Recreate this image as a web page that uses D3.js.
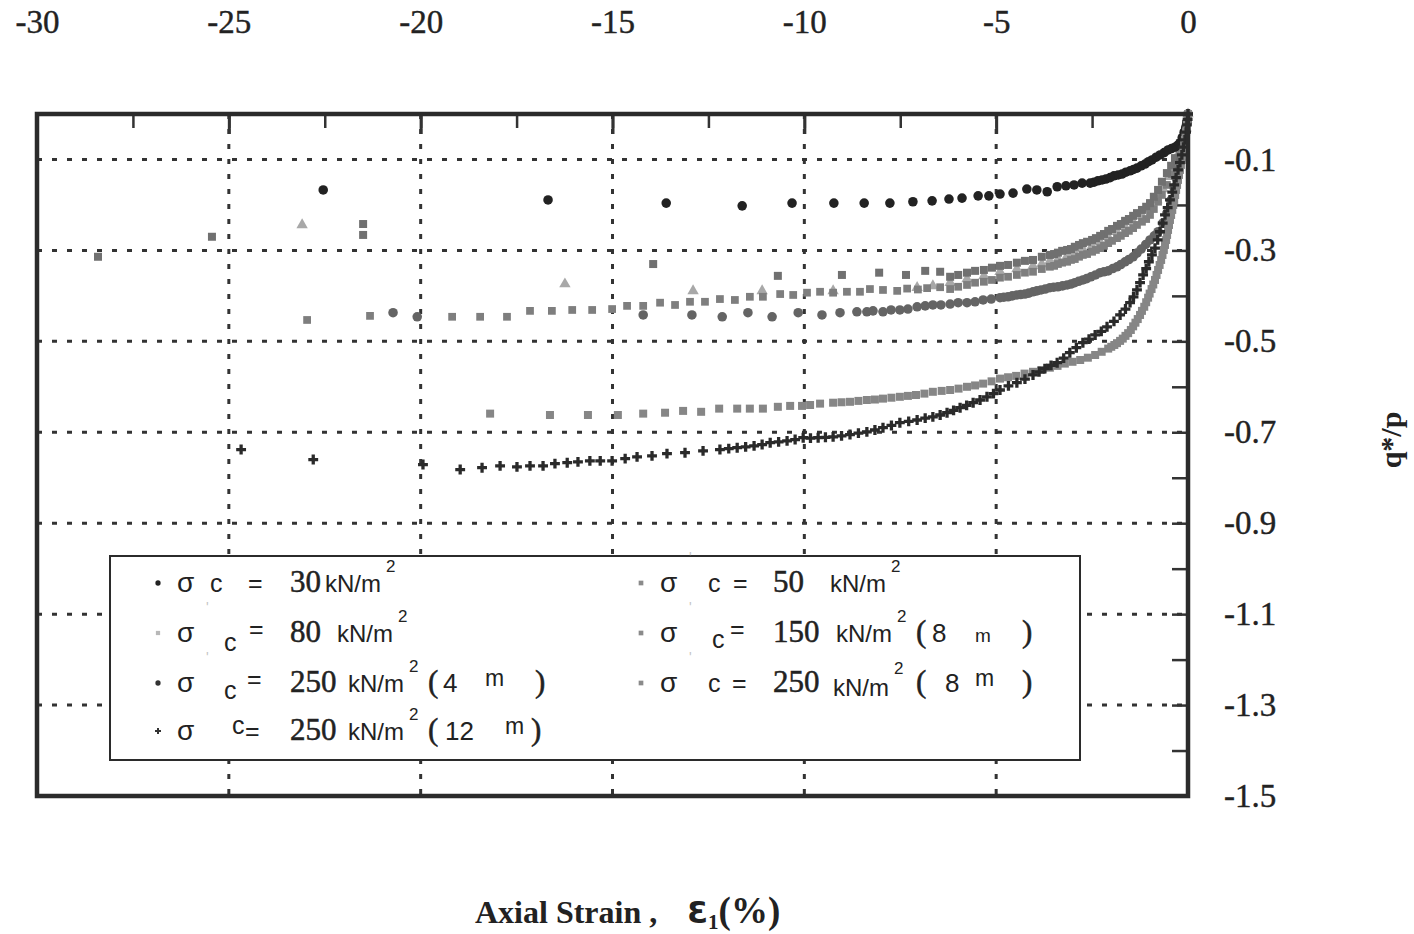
<!DOCTYPE html>
<html>
<head>
<meta charset="utf-8">
<script src="https://cdn.jsdelivr.net/npm/d3@7"></script>
<style>
  body { margin: 0; background: #fff; }
  svg { display: block; }
</style>
</head>
<body>
<svg id="chart" width="1414" height="934"></svg>
<script>
// tick values
const xTicks = [-30, -25, -20, -15, -10, -5, 0]
const xMinor = [-27.5, -25, -22.5, -20, -17.5, -15, -12.5, -10, -7.5, -5, -2.5]
const yLabels = [-0.1, -0.3, -0.5, -0.7, -0.9, -1.1, -1.3, -1.5]
const yMinor = [-0.1, -0.2, -0.3, -0.4, -0.5, -0.6, -0.7, -0.8, -0.9, -1.0, -1.1, -1.2, -1.3, -1.4]
const yGrid = [-0.1, -0.3, -0.5, -0.7, -0.9, -1.1, -1.3]
const xGrid = [-25, -20, -15, -10, -5]

// sigma'c = 30 kN/m2
const s30 = [[0,0],[-0.03,-0.018],[-0.06,-0.030],[-0.10,-0.040],[-0.15,-0.052],[-0.21,-0.064],[-0.27,-0.069],
  [-0.34,-0.073],[-0.43,-0.076],[-0.52,-0.079],[-0.62,-0.085],[-0.73,-0.090],[-0.83,-0.095],[-0.94,-0.101],
  [-1.03,-0.105],[-1.12,-0.110],[-1.22,-0.114],[-1.33,-0.119],[-1.42,-0.122],[-1.51,-0.125],[-1.62,-0.128],
  [-1.72,-0.132],[-1.82,-0.134],[-1.93,-0.136],[-2.03,-0.140],[-2.14,-0.143],[-2.24,-0.145],[-2.35,-0.147],
  [-2.45,-0.150],[-2.55,-0.152],[-2.76,-0.152],[-2.97,-0.156],[-3.18,-0.158],[-3.41,-0.160],[-3.67,-0.171],
  [-3.94,-0.167],[-4.20,-0.165],[-4.56,-0.174],[-4.90,-0.176],[-5.19,-0.180],[-5.47,-0.180],[-5.89,-0.185],
  [-6.23,-0.187],[-6.67,-0.191],[-7.17,-0.193],[-7.77,-0.196],[-8.44,-0.196],[-9.23,-0.196],[-10.32,-0.196],
  [-11.62,-0.202],[-13.60,-0.196],[-16.68,-0.189],[-22.54,-0.167]]

// sigma'c = 50 kN/m2
const s50 = [[0,0],[-0.03,-0.020],[-0.10,-0.042],[-0.21,-0.064],[-0.34,-0.097],[-0.44,-0.114],[-0.55,-0.130],
  [-0.68,-0.149],[-0.78,-0.167],[-0.89,-0.182],[-0.99,-0.196],[-1.09,-0.204],[-1.20,-0.211],[-1.33,-0.218],
  [-1.43,-0.224],[-1.54,-0.231],[-1.64,-0.235],[-1.75,-0.242],[-1.85,-0.246],[-1.98,-0.253],[-2.08,-0.257],
  [-2.19,-0.264],[-2.29,-0.268],[-2.40,-0.273],[-2.50,-0.277],[-2.63,-0.281],[-2.74,-0.284],[-2.84,-0.288],
  [-2.95,-0.292],[-3.05,-0.297],[-3.15,-0.299],[-3.28,-0.301],[-3.39,-0.305],[-3.49,-0.308],[-3.60,-0.310],
  [-3.81,-0.314],[-4.04,-0.321],[-4.25,-0.323],[-4.46,-0.327],[-4.69,-0.332],[-4.90,-0.334],[-5.11,-0.338],
  [-5.32,-0.343],[-5.55,-0.345],[-5.76,-0.349],[-5.99,-0.354],[-6.20,-0.358],[-6.46,-0.347],[-6.85,-0.345],
  [-7.35,-0.354],[-8.05,-0.349],[-9.02,-0.354],[-10.69,-0.356],[-13.94,-0.330],[-21.50,-0.266],[-21.50,-0.242],
  [-25.44,-0.270],[-28.41,-0.314]]

// sigma'c = 80 kN/m2
const s80 = [[0,0],[-0.05,-0.031],[-0.13,-0.057],[-0.23,-0.084],[-0.36,-0.114],[-0.50,-0.138],[-0.65,-0.165],
  [-0.81,-0.189],[-0.99,-0.209],[-1.20,-0.224],[-1.43,-0.237],[-1.64,-0.248],[-1.85,-0.259],[-2.08,-0.270],
  [-2.29,-0.281],[-2.50,-0.290],[-2.74,-0.297],[-2.95,-0.305],[-3.15,-0.312],[-3.39,-0.319],[-3.60,-0.323],
  [-3.81,-0.330],[-4.04,-0.334],[-4.46,-0.341],[-4.90,-0.347],[-5.32,-0.356],[-5.76,-0.363],[-6.20,-0.371],
  [-6.65,-0.378],[-7.06,-0.382],[-9.25,-0.389],[-11.10,-0.389],[-12.90,-0.389],[-16.24,-0.374],[-23.09,-0.244]]

// sigma'c = 150 kN/m2 (8 m)
const s150 = [[0,0],[-0.05,-0.040],[-0.13,-0.070],[-0.21,-0.090],[-0.31,-0.112],[-0.42,-0.132],[-0.55,-0.156],
  [-0.68,-0.178],[-0.78,-0.193],[-0.89,-0.209],[-0.99,-0.222],[-1.09,-0.231],[-1.20,-0.237],[-1.33,-0.244],
  [-1.43,-0.251],[-1.54,-0.257],[-1.64,-0.262],[-1.75,-0.268],[-1.85,-0.273],[-1.98,-0.279],[-2.08,-0.284],
  [-2.19,-0.290],[-2.29,-0.295],[-2.40,-0.299],[-2.50,-0.303],[-2.63,-0.308],[-2.74,-0.310],[-2.84,-0.314],
  [-2.95,-0.319],[-3.05,-0.321],[-3.15,-0.325],[-3.28,-0.327],[-3.39,-0.330],[-3.49,-0.334],[-3.60,-0.336],
  [-3.81,-0.341],[-4.04,-0.347],[-4.25,-0.349],[-4.46,-0.354],[-4.69,-0.358],[-4.90,-0.360],[-5.11,-0.365],
  [-5.32,-0.369],[-5.55,-0.371],[-5.76,-0.376],[-5.99,-0.380],[-6.20,-0.385],[-6.46,-0.381],[-6.80,-0.383],
  [-7.04,-0.386],[-7.32,-0.384],[-7.58,-0.389],[-7.95,-0.387],[-8.29,-0.385],[-8.55,-0.391],[-8.89,-0.391],
  [-9.25,-0.393],[-9.59,-0.391],[-9.93,-0.393],[-10.29,-0.398],[-10.63,-0.396],[-11.08,-0.402],[-11.42,-0.402],
  [-11.81,-0.409],[-12.20,-0.407],[-12.59,-0.413],[-12.98,-0.413],[-13.37,-0.420],[-13.76,-0.415],[-14.20,-0.422],
  [-14.62,-0.422],[-15.01,-0.429],[-15.53,-0.431],[-16.05,-0.431],[-16.58,-0.433],[-17.15,-0.433],[-17.75,-0.446],
  [-18.45,-0.446],[-19.18,-0.446],[-21.32,-0.444],[-22.96,-0.453]]

// sigma'c = 250 kN/m2 (4 m)
const s250a = [[0,0],[-0.02,-0.018],[-0.05,-0.035],[-0.09,-0.057],[-0.13,-0.079],[-0.18,-0.101],[-0.23,-0.123],
  [-0.29,-0.143],[-0.36,-0.163],[-0.45,-0.190],[-0.55,-0.218],[-0.66,-0.240],[-0.78,-0.259],[-0.88,-0.268],
  [-0.99,-0.277],[-1.10,-0.287],[-1.22,-0.297],[-1.33,-0.306],[-1.43,-0.314],[-1.54,-0.320],[-1.64,-0.325],
  [-1.75,-0.331],[-1.85,-0.336],[-1.96,-0.340],[-2.08,-0.345],[-2.19,-0.347],[-2.29,-0.349],[-2.41,-0.354],
  [-2.53,-0.358],[-2.64,-0.362],[-2.74,-0.365],[-2.85,-0.368],[-2.95,-0.371],[-3.05,-0.374],[-3.15,-0.376],
  [-3.27,-0.378],[-3.39,-0.380],[-3.50,-0.381],[-3.60,-0.382],[-3.72,-0.385],[-3.83,-0.387],[-3.94,-0.389],
  [-4.04,-0.391],[-4.15,-0.394],[-4.25,-0.396],[-4.36,-0.397],[-4.46,-0.398],[-4.58,-0.400],[-4.69,-0.402],
  [-4.80,-0.403],[-4.90,-0.404],[-5.13,-0.407],[-5.34,-0.409],[-5.55,-0.413],[-5.76,-0.415],[-5.99,-0.415],
  [-6.20,-0.418],[-6.44,-0.420],[-6.65,-0.420],[-6.85,-0.422],[-7.06,-0.424],[-7.30,-0.429],[-7.51,-0.431],
  [-7.74,-0.431],[-7.95,-0.435],[-8.21,-0.433],[-8.37,-0.435],[-8.63,-0.435],[-9.07,-0.437],[-9.54,-0.442],
  [-10.16,-0.437],[-10.84,-0.446],[-11.47,-0.437],[-12.14,-0.446],[-12.93,-0.442],[-14.20,-0.442],[-20.09,-0.446],
  [-20.72,-0.437]]

// sigma'c = 250 kN/m2 (8 m)
const s250b = [[0,0],[-0.005,-0.006],[-0.01,-0.012],[-0.02,-0.018],[-0.03,-0.024],[-0.04,-0.032],[-0.05,-0.040],
  [-0.065,-0.048],[-0.08,-0.057],[-0.10,-0.068],[-0.12,-0.079],[-0.14,-0.090],[-0.16,-0.101],[-0.185,-0.112],
  [-0.21,-0.123],[-0.235,-0.134],[-0.26,-0.145],[-0.285,-0.156],[-0.31,-0.167],[-0.335,-0.178],[-0.36,-0.189],
  [-0.385,-0.200],[-0.41,-0.211],[-0.44,-0.222],[-0.47,-0.233],[-0.495,-0.244],[-0.52,-0.255],[-0.545,-0.266],
  [-0.57,-0.277],[-0.60,-0.288],[-0.63,-0.299],[-0.665,-0.310],[-0.70,-0.321],[-0.74,-0.332],[-0.78,-0.343],
  [-0.82,-0.354],[-0.86,-0.365],[-0.905,-0.375],[-0.95,-0.385],[-1.00,-0.395],[-1.04,-0.404],[-1.09,-0.414],
  [-1.14,-0.424],[-1.20,-0.433],[-1.25,-0.442],[-1.31,-0.451],[-1.37,-0.459],[-1.43,-0.467],[-1.49,-0.475],
  [-1.56,-0.482],[-1.63,-0.488],[-1.70,-0.494],[-1.77,-0.499],[-1.85,-0.504],[-1.92,-0.508],[-2.00,-0.512],
  [-2.08,-0.516],[-2.25,-0.523],[-2.42,-0.530],[-2.61,-0.536],[-2.81,-0.541],[-3.01,-0.545],[-3.21,-0.549],
  [-3.40,-0.554],[-3.60,-0.558],[-3.82,-0.563],[-4.04,-0.567],[-4.26,-0.571],[-4.48,-0.576],[-4.69,-0.579],
  [-4.90,-0.582],[-5.12,-0.588],[-5.34,-0.593],[-5.55,-0.597],[-5.76,-0.600],[-5.98,-0.604],[-6.20,-0.607],
  [-6.42,-0.609],[-6.65,-0.611],[-6.87,-0.615],[-7.09,-0.618],[-7.30,-0.620],[-7.51,-0.622],[-7.73,-0.624],
  [-7.95,-0.626],[-8.16,-0.628],[-8.37,-0.629],[-8.59,-0.631],[-8.81,-0.633],[-9.03,-0.634],[-9.25,-0.635],
  [-9.59,-0.637],[-9.85,-0.640],[-10.06,-0.642],[-10.37,-0.642],[-10.69,-0.644],[-11.08,-0.648],[-11.42,-0.648],
  [-11.75,-0.648],[-12.22,-0.648],[-12.69,-0.655],[-13.16,-0.653],[-13.63,-0.657],[-14.20,-0.659],[-14.86,-0.662],
  [-15.64,-0.662],[-16.63,-0.662],[-18.19,-0.659]]

// sigma'c = 250 kN/m2 (12 m)
const s250c = [[0,0],[-0.01,-0.012],[-0.03,-0.024],[-0.05,-0.040],[-0.08,-0.057],[-0.12,-0.073],[-0.16,-0.090],
  [-0.21,-0.107],[-0.26,-0.123],[-0.31,-0.140],[-0.36,-0.156],[-0.41,-0.172],[-0.47,-0.189],[-0.53,-0.206],
  [-0.60,-0.222],[-0.66,-0.240],[-0.73,-0.259],[-0.79,-0.277],[-0.86,-0.295],[-0.94,-0.310],[-1.02,-0.325],
  [-1.09,-0.340],[-1.17,-0.354],[-1.25,-0.371],[-1.33,-0.387],[-1.42,-0.402],[-1.51,-0.415],[-1.63,-0.429],
  [-1.77,-0.442],[-1.93,-0.456],[-2.11,-0.468],[-2.26,-0.478],[-2.42,-0.486],[-2.58,-0.495],[-2.74,-0.503],
  [-2.91,-0.514],[-3.08,-0.525],[-3.24,-0.537],[-3.41,-0.547],[-3.57,-0.553],[-3.73,-0.560],[-3.88,-0.567],
  [-4.04,-0.574],[-4.25,-0.583],[-4.46,-0.591],[-4.68,-0.598],[-4.90,-0.607],[-5.07,-0.615],[-5.24,-0.622],
  [-5.42,-0.629],[-5.60,-0.635],[-5.77,-0.641],[-5.94,-0.646],[-6.11,-0.652],[-6.28,-0.657],[-6.46,-0.662],
  [-6.65,-0.666],[-6.85,-0.669],[-7.06,-0.673],[-7.28,-0.676],[-7.51,-0.679],[-7.73,-0.685],[-7.95,-0.690],
  [-8.16,-0.695],[-8.37,-0.699],[-8.59,-0.702],[-8.81,-0.705],[-9.03,-0.708],[-9.25,-0.710],[-9.45,-0.711],
  [-9.64,-0.712],[-9.84,-0.713],[-10.03,-0.712],[-10.24,-0.716],[-10.45,-0.719],[-10.67,-0.721],[-10.89,-0.723],
  [-11.10,-0.727],[-11.31,-0.730],[-11.53,-0.732],[-11.75,-0.734],[-11.97,-0.736],[-12.20,-0.738],[-12.64,-0.741],
  [-13.11,-0.745],[-13.58,-0.747],[-13.97,-0.752],[-14.36,-0.754],[-14.67,-0.758],[-15.01,-0.763],[-15.32,-0.763],
  [-15.59,-0.763],[-15.90,-0.765],[-16.18,-0.767],[-16.50,-0.769],[-16.81,-0.774],[-17.15,-0.774],[-17.49,-0.776],
  [-17.93,-0.774],[-18.40,-0.778],[-18.97,-0.782],[-19.94,-0.771],[-22.80,-0.760],[-24.68,-0.738]]

const legendValues = ["30", "80", "250", "250", "50", "150", "250"]
const legendDepths = ["", "", "4", "12", "", "8", "8"]

const serif = "'Liberation Serif', 'Times New Roman', serif"
const sans = "'Liberation Sans', Arial, sans-serif"
const ink = "#222"

const svg = d3.select("#chart")

const x = d3.scaleLinear().domain([-30, 0]).range([37, 1188])
const y = d3.scaleLinear().domain([0, -1.5]).range([114, 796])

// dotted grid
const grid = svg.append("g")
grid.selectAll(".gx").data(xGrid).join("line")
    .attr("x1", d => x(d)).attr("x2", d => x(d))
    .attr("y1", y(0)).attr("y2", y(-1.5))
    .attr("stroke", "#333").attr("stroke-width", 3)
    .attr("stroke-dasharray", "5,10")
grid.selectAll(".gy").data(yGrid).join("line")
    .attr("x1", x(-30)).attr("x2", x(0))
    .attr("y1", d => y(d)).attr("y2", d => y(d))
    .attr("stroke", "#333").attr("stroke-width", 3)
    .attr("stroke-dasharray", "5,10")

// inner ticks on top and right
svg.append("g").attr("transform", `translate(0,${y(0)})`)
    .call(d3.axisTop(x).tickValues(xMinor).tickSize(-14).tickFormat(""))
    .call(g => g.select(".domain").remove())
    .call(g => g.selectAll("line").attr("stroke", "#333").attr("stroke-width", 2.5))
svg.append("g").attr("transform", `translate(0,${y(0)})`)
    .call(d3.axisTop(x).tickValues(xGrid).tickSize(-20).tickFormat(""))
    .call(g => g.select(".domain").remove())
    .call(g => g.selectAll("line").attr("stroke", "#333").attr("stroke-width", 3))
svg.append("g").attr("transform", `translate(${x(0)},0)`)
    .call(d3.axisRight(y).tickValues(yMinor).tickSize(-16).tickFormat(""))
    .call(g => g.select(".domain").remove())
    .call(g => g.selectAll("line").attr("stroke", "#333").attr("stroke-width", 2.5))

// tick labels
svg.append("g").attr("transform", "translate(0,33)")
    .call(d3.axisTop(x).tickValues(xTicks).tickSize(0).tickPadding(0).tickFormat(d => d === 0 ? "0" : "-" + Math.abs(d)))
    .call(g => g.select(".domain").remove())
    .call(g => g.selectAll("text").attr("dy", 0).attr("font-family", serif).attr("font-size", 33)
        .attr("fill", ink).attr("stroke", ink).attr("stroke-width", 0.4))
svg.append("g").attr("transform", `translate(1224,0)`)
    .call(d3.axisRight(y).tickValues(yLabels).tickSize(0).tickPadding(0).tickFormat(d => "-" + Math.abs(d).toFixed(1)))
    .call(g => g.select(".domain").remove())
    .call(g => g.selectAll("text").attr("font-family", serif).attr("font-size", 33)
        .attr("fill", ink).attr("stroke", ink).attr("stroke-width", 0.4))

// data points
function drawSeries(data, type, size, color) {
    const sym = d3.symbol().type(type).size(size)
    svg.append("g").selectAll("path").data(data).join("path")
        .attr("d", sym)
        .attr("transform", d => `translate(${x(d[0])},${y(d[1])})`)
        .attr("fill", color)
}
drawSeries(s80, d3.symbolTriangle, 56, "#a8a8a8")
drawSeries(s150, d3.symbolSquare, 60, "#7e7e7e")
drawSeries(s50, d3.symbolSquare, 64, "#707070")
drawSeries(s250a, d3.symbolCircle, 72, "#646464")
drawSeries(s30, d3.symbolCircle, 72, "#222")
drawSeries(s250b, d3.symbolSquare, 64, "#868686")
drawSeries(s250c, d3.symbolCross, 54, "#2a2a2a")

// frame
svg.append("rect")
    .attr("x", x(-30)).attr("y", y(0))
    .attr("width", x(0) - x(-30)).attr("height", y(-1.5) - y(0))
    .attr("fill", "none").attr("stroke", "#2b2b2b").attr("stroke-width", 4.5)

// legend
const leg = svg.append("g")
leg.append("rect").attr("x", 110).attr("y", 556).attr("width", 970).attr("height", 204)
    .attr("fill", "#fff").attr("stroke", "#2b2b2b").attr("stroke-width", 2)

function txt(px, py, s, fam, size, fill) {
    const t = leg.append("text").attr("x", px).attr("y", py).text(s)
        .attr("font-family", fam).attr("font-size", size).attr("fill", fill || ink)
    if (fam === serif) t.attr("stroke", ink).attr("stroke-width", 0.5)
    return t
}

const legMarkers = [
    [d3.symbolCircle, 22, "#222"], [d3.symbolSquare, 18, "#b8b8b8"], [d3.symbolCircle, 22, "#333"],
    [d3.symbolCross, 20, "#333"], [d3.symbolSquare, 22, "#8a8a8a"], [d3.symbolSquare, 22, "#8a8a8a"],
    [d3.symbolSquare, 22, "#8a8a8a"]
]
// row origin: [marker x, baseline]
const rowPos = [[158, 592], [158, 642], [158, 692], [158, 740], [641, 592], [641, 642], [641, 692]]
// "c" x, "c" dy, "=" x
const cPos = [[52, 0, 90], [66, 9, 91], [66, 7, 89], [74, -6, 87], [67, 0, 92], [71, 6, 89], [67, 0, 91]]
const kPos = [167, 179, 190, 190, 189, 195, 192]
const parPos = [0, 0, [270, 285, 327, 377], [270, 287, 347, 373], 0, [275, 291, 334, 381], [275, 304, 334, 381]]

legendValues.forEach((v, i) => {
    const [rx, ry] = rowPos[i]
    const m = legMarkers[i]
    leg.append("path").attr("d", d3.symbol().type(m[0]).size(m[1])())
        .attr("transform", `translate(${rx},${ry - 9})`).attr("fill", m[2])
    if (i !== 0 && i !== 3) txt(rx + 48, ry - 30, "'", sans, 14, "#c4c4c4")
    txt(rx + 19, ry, "σ", sans, 28)
    txt(rx + cPos[i][0], ry + cPos[i][1], "c", sans, 25)
    txt(rx + cPos[i][2], ry - (cPos[i][1] > 0 ? 4 : 0), "=", sans, 25)
    txt(rx + 132, ry, v, serif, 31)
    txt(rx + kPos[i], ry + (i === 6 ? 4 : 0), "kN/m", sans, 24)
    txt(rx + kPos[i] + 61, ry - 20 + (i === 6 ? 2 : 0), "2", sans, 17)
    if (legendDepths[i]) {
        const p = parPos[i]
        txt(rx + p[0], ry, "(", serif, 31)
        txt(rx + p[1], ry, legendDepths[i], sans, 26)
        txt(rx + p[2], ry - (i === 5 ? 0 : 6), "m", sans, i === 5 ? 19 : 23)
        txt(rx + p[3], ry, ")", serif, 31)
    }
})

// axis titles
const xt = svg.append("text").attr("x", 475).attr("y", 923)
    .attr("font-family", serif).attr("font-size", 32).attr("font-weight", "bold").attr("fill", ink)
xt.append("tspan").text("Axial Strain ,")
xt.append("tspan").attr("dx", 30).attr("font-family", "'DejaVu Sans', sans-serif").attr("font-size", 30).text("Ɛ")
xt.append("tspan").attr("font-size", 21).attr("dy", 6).text("1")
xt.append("tspan").attr("dy", -6).attr("font-size", 37).text("(%)")

svg.append("text").attr("transform", "translate(1401,440) rotate(-90)")
    .attr("text-anchor", "middle")
    .attr("font-family", serif).attr("font-size", 30).attr("font-weight", "bold").attr("fill", ink)
    .text("q*/p")
</script>
</body>
</html>
